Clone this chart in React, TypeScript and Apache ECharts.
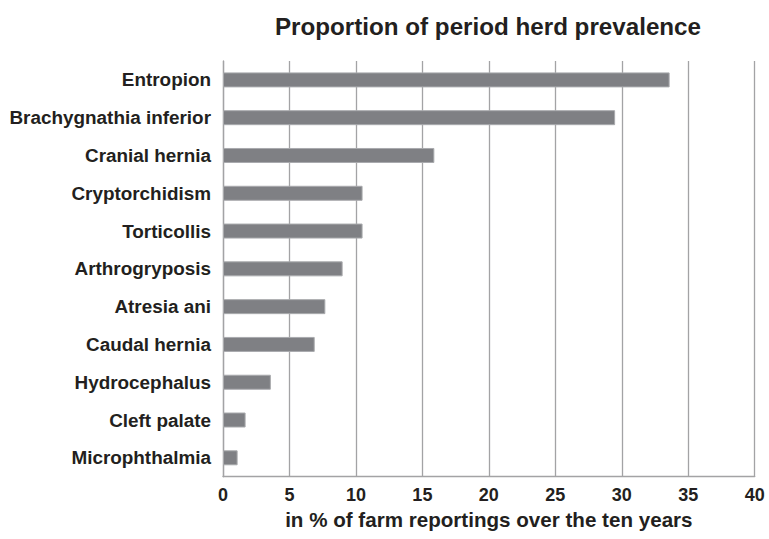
import React, { useEffect, useRef } from "react";
import * as echarts from "echarts";

const categories = [
  "Entropion",
  "Brachygnathia inferior",
  "Cranial hernia",
  "Cryptorchidism",
  "Torticollis",
  "Arthrogryposis",
  "Atresia ani",
  "Caudal hernia",
  "Hydrocephalus",
  "Cleft palate",
  "Microphthalmia",
];
const values = [33.6, 29.5, 15.9, 10.5, 10.5, 9.0, 7.7, 6.9, 3.6, 1.7, 1.1];
const xTicks = { min: 0, max: 40, interval: 5 };
const titleText = "Proportion of period herd prevalence";
const xAxisName = "in % of farm reportings over the ten years";

const FONT = "'Liberation Sans', Arial, Helvetica, sans-serif";
const TEXT = "#231f20";
const GRID = "#a3a3a5";

export default function App() {
  const ref = useRef<HTMLDivElement>(null);
  useEffect(() => {
    if (!ref.current) return;
    const chart = echarts.init(ref.current, undefined, { renderer: "svg" });
    chart.setOption({
      animation: false,
      backgroundColor: "#ffffff",
      graphic: [
        {
          type: "text",
          x: 488,
          y: 26,
          style: {
            text: titleText,
            fontFamily: FONT,
            fontWeight: "bold",
            fontSize: 24.2,
            fill: TEXT,
            textAlign: "center",
            textVerticalAlign: "middle",
          },
        },
      ],
      grid: { left: 223, right: 14.3, top: 61, bottom: 62.3, containLabel: false },
      xAxis: {
        type: "value",
        min: xTicks.min,
        max: xTicks.max,
        interval: xTicks.interval,
        name: xAxisName,
        nameLocation: "middle",
        nameGap: 32,
        nameTextStyle: { fontFamily: FONT, fontWeight: "bold", fontSize: 20.6, color: TEXT },
        axisLine: { show: true, lineStyle: { color: GRID, width: 1.3 } },
        axisTick: { show: false },
        axisLabel: { margin: 9, fontFamily: FONT, fontWeight: "bold", fontSize: 18, color: TEXT },
        splitLine: { show: true, lineStyle: { color: GRID, width: 1.3 } },
      },
      yAxis: {
        type: "category",
        data: categories,
        inverse: true,
        axisLine: { show: true, lineStyle: { color: GRID, width: 1.3 } },
        axisTick: { show: false },
        axisLabel: { margin: 12, fontFamily: FONT, fontWeight: "bold", fontSize: 18.9, color: TEXT },
        splitLine: { show: false },
      },
      series: [
        {
          type: "bar",
          data: values,
          barWidth: 15,
          itemStyle: { color: "#7f8084", borderColor: "#a9aaad", borderWidth: 1 },
        },
      ],
    });
    return () => chart.dispose();
  }, []);
  return (
    <div
      ref={ref}
      style={{ position: "fixed", left: 0, top: 0, width: 769, height: 539, background: "#fff" }}
    />
  );
}
